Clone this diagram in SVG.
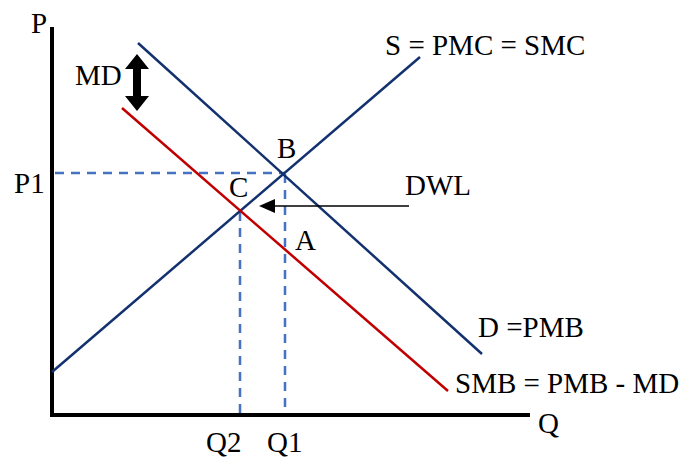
<svg xmlns="http://www.w3.org/2000/svg" width="681" height="459" viewBox="0 0 681 459">
<style>
text{font-family:"Liberation Serif","Times New Roman",serif;font-size:29px;fill:#000}
.ax{stroke:#000;stroke-width:4;fill:none}
.blue{stroke:#12316e;stroke-width:2.5;fill:none}
.red{stroke:#c00000;stroke-width:2.5;fill:none}
.dash{stroke:#4472c4;stroke-width:2.5;stroke-dasharray:9 7;fill:none}
</style>
<g id="axes">
<path class="ax" d="M52,27 V415 H530"/>
<text x="31" y="33">P</text>
<text x="538" y="433">Q</text>
</g>
<g id="connectors">
<path class="dash" d="M55,173 H285"/>
<path class="dash" d="M240,212 V413"/>
<path class="dash" d="M285,174 V413"/>
<path id="supply" class="blue" d="M52,372 L420,57"/>
<path id="demand" class="blue" d="M138,43 L482,354"/>
<path id="smb" class="red" d="M122,108 L448,391"/>
<path id="dwl-arrow" d="M409,206 H274" stroke="#000" stroke-width="1.5" fill="none"/>
<path d="M259,206 L275,199 L275,213 Z" fill="#000"/>
<path id="md-arrow" d="M137,54 L149,69 L141,69 L141,96 L149,96 L137,111 L125,96 L133,96 L133,69 L125,69 Z" fill="#000"/>
</g>
<g id="labels">
<text x="385" y="55">S = PMC = SMC</text>
<text x="75" y="85">MD</text>
<text x="277" y="158">B</text>
<text x="229" y="197">C</text>
<text x="295" y="250">A</text>
<text x="405" y="195">DWL</text>
<text x="14" y="193">P1</text>
<text x="478" y="337">D =PMB</text>
<text x="455" y="393">SMB = PMB - MD</text>
<text x="206" y="452">Q2</text>
<text x="267" y="452">Q1</text>
</g>
</svg>
